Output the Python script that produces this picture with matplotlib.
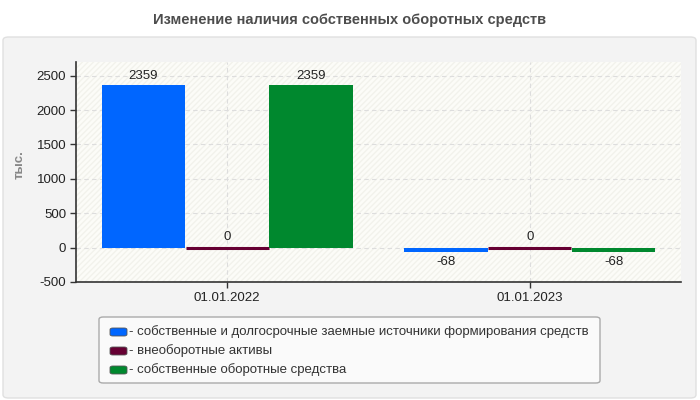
import matplotlib
matplotlib.use("Agg")
import matplotlib.pyplot as plt
from matplotlib.patches import FancyBboxPatch, Rectangle
import numpy as np

plt.rcParams['font.family'] = ['Liberation Sans', 'DejaVu Sans']
plt.rcParams['axes.unicode_minus'] = False

categories = ["01.01.2022", "01.01.2023"]
series_names = [
    "- собственные и долгосрочные заемные источники формирования средств",
    "- внеоборотные активы",
    "- собственные оборотные средства",
]
series_values = [
    [2359, -68],
    [0, 0],
    [2359, -68],
]
colors = ["#0066ff", "#660033", "#00882e"]
title = "Изменение наличия собственных оборотных средств"
ylabel = "тыс."
yticks = [-500, 0, 500, 1000, 1500, 2000, 2500]

W, H = 700, 400
fig = plt.figure(figsize=(7, 4), dpi=100)
fig.patch.set_facecolor("white")

# outer panel
panel = FancyBboxPatch((3 / W, 2 / H), 693 / W, 361 / H,
                       boxstyle="round,pad=0,rounding_size=0.008",
                       transform=fig.transFigure, facecolor="#f3f3f3",
                       edgecolor="#e0e0e0", linewidth=1, zorder=-10)
fig.patches.append(panel)

fig.text(350 / W, 1 - 20 / H, title, ha="center", va="center",
         fontsize=10.5, fontweight="bold", color="#4d4d4d")

ax = fig.add_axes([76 / W, 1 - 282 / H, 605 / W, 220 / H])
ax.set_facecolor("#fcfcf8")
bg = Rectangle((0, 0), 1, 1, transform=ax.transAxes, facecolor="none",
               edgecolor="#f2f2ec", hatch="//////", linewidth=0, zorder=0)
ax.add_patch(bg)

x = np.arange(len(categories))
bw = 0.275
offsets = [-0.277, 0.0, 0.277]
for i, (vals, c) in enumerate(zip(series_values, colors)):
    for xi, v in zip(x, vals):
        xpos = xi + offsets[i]
        if v == 0:
            ax.bar(xpos, 0, width=bw, bottom=0, color=c, edgecolor=c,
                   linewidth=2.2, zorder=3)
            ax.text(xpos, v + 60, f"{v}", ha="center", va="bottom",
                    fontsize=9.5, color="#222222", zorder=4)
        else:
            ax.bar(xpos, v, width=bw, color=c, linewidth=0, zorder=3)
            if v > 0:
                ax.text(xpos, v + 50, f"{v}", ha="center",
                        va="bottom", fontsize=9.5, color="#222222", zorder=4)
            else:
                ax.text(xpos, v - 50, f"{v}", ha="center", va="top",
                        fontsize=9.5, color="#222222", zorder=4)

ax.set_xlim(-0.5, 1.5)
ax.set_ylim(-500, 2700)
ax.set_yticks(yticks)
ax.set_xticks(x)
ax.set_xticklabels(categories)
ax.tick_params(axis="both", labelsize=9.5, colors="#333333", labelcolor="#222222",
               length=4, width=1, pad=3)
ax.grid(True, color="#dddddd", linestyle=(0, (4, 3)), linewidth=0.8, zorder=1)
ax.set_axisbelow(True)
for s in ["top", "right"]:
    ax.spines[s].set_visible(False)
for s in ["left", "bottom"]:
    ax.spines[s].set_color("#333333")
    ax.spines[s].set_linewidth(1.2)

fig.text(20 / W, 1 - 165 / H, ylabel, rotation=90, ha="center", va="center",
         fontsize=9.5, fontweight="bold", color="#888888")

# legend box
leg = FancyBboxPatch((99 / W, 1 - 383 / H), 501 / W, 66 / H,
                     boxstyle="round,pad=0,rounding_size=0.006",
                     transform=fig.transFigure, facecolor="#fafafa",
                     edgecolor="#aaaaaa", linewidth=1, zorder=1)
fig.patches.append(leg)
for i, (name, c) in enumerate(zip(series_names, colors)):
    yc = 1 - (332 + i * 19) / H
    h = FancyBboxPatch((110 / W, yc - 4 / H), 17 / W, 8 / H,
                       boxstyle="round,pad=0,rounding_size=0.004",
                       transform=fig.transFigure, facecolor=c,
                       edgecolor="#555555", linewidth=0.6, zorder=2)
    fig.patches.append(h)
    fig.text(129 / W, yc, name, ha="left", va="center", fontsize=9.5,
             color="#333333")

fig.savefig("out.png", dpi=100)
